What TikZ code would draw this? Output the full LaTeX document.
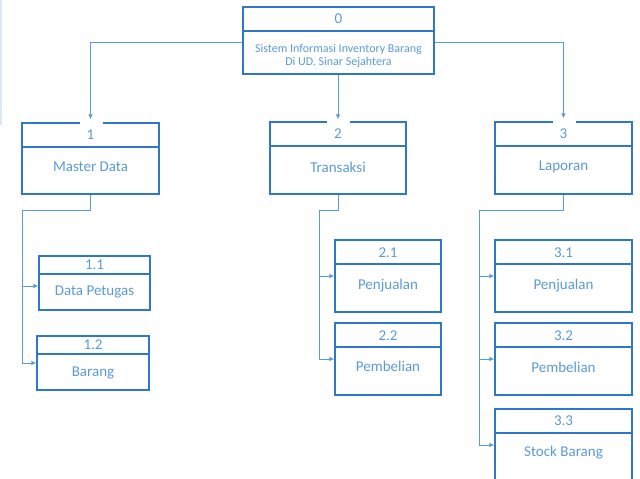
\documentclass[tikz,border=0pt]{standalone}
\usepackage{fontspec}
\setmainfont{Carlito}
\usetikzlibrary{arrows.meta,calc}
\definecolor{boxblue}{HTML}{2F78C8}
\definecolor{linkblue}{HTML}{5B9BD5}
\definecolor{txtblue}{HTML}{5B9BD5}
\definecolor{edgeblue}{HTML}{DCE9F5}
\tikzset{
  box/.style={draw=boxblue, line width=1.3pt, rectangle, inner sep=0pt},
  divider/.style={draw=boxblue, line width=1.3pt},
  conn/.style={draw=linkblue, line width=0.9pt},
  arr/.style={conn, -{Latex[length=5pt,width=4.5pt]}},
  num/.style={text=txtblue, font=\fontsize{15}{18}\selectfont, inner sep=0pt},
  lbl/.style={text=txtblue, font=\fontsize{15}{18}\selectfont, inner sep=0pt},
  small/.style={text=txtblue, font=\fontsize{12}{14}\selectfont, inner sep=0pt},
}
\begin{document}
\begin{tikzpicture}[x=1pt,y=-1pt]
\useasboundingbox (0,0) rectangle (640,479);
\fill[white] (0,0) rectangle (640,479);

% faint edge line on the left
\draw[edgeblue, line width=1.2pt] (1,0) -- (1,125);

% ---- level 0 ----
\node[box, minimum width=191pt, minimum height=67pt] (b0) at (338.5,40.5) {};
\draw[divider] (b0.west |- 0,31) -- (b0.east |- 0,31);
\node[num] (n0) at (338.5,19) {0};
\node[small] (t0a) at (338.5,49) {Sistem Informasi Inventory Barang};
\node[small] (t0b) at (338.5,62) {Di UD. Sinar Sejahtera};

% ---- level 1 ----
\node[box, minimum width=137pt, minimum height=71pt] (b1) at (90.5,158.5) {};
\draw[divider] (b1.west |- 0,147) -- (b1.east |- 0,147);
\node[num] (n1) at (90.5,135) {1};
\node[lbl] (l1) at (90.5,167) {Master Data};

\node[box, minimum width=136pt, minimum height=72pt] (b2) at (338,158) {};
\draw[divider] (b2.west |- 0,146) -- (b2.east |- 0,146);
\node[num] (n2) at (338,134) {2};
\node[lbl] (l2) at (338,167) {Transaksi};

\node[box, minimum width=137pt, minimum height=72pt] (b3) at (563.5,158) {};
\draw[divider] (b3.west |- 0,146) -- (b3.east |- 0,146);
\node[num] (n3) at (563.5,134) {3};
\node[lbl] (l3) at (563.5,167) {Laporan};

% ---- level 2, column 1 ----
\node[box, minimum width=111pt, minimum height=54pt] (b11) at (94.5,283) {};
\draw[divider] (b11.west |- 0,274) -- (b11.east |- 0,274);
\node[num] (n11) at (94.5,265) {1.1};
\node[lbl] (l11) at (94.5,292) {Data Petugas};

\node[box, minimum width=112pt, minimum height=54pt] (b12) at (93,363) {};
\draw[divider] (b12.west |- 0,354) -- (b12.east |- 0,354);
\node[num] (n12) at (93,345) {1.2};
\node[lbl] (l12) at (93,372.5) {Barang};

% ---- level 2, column 2 ----
\node[box, minimum width=106pt, minimum height=72pt] (b21) at (388,276) {};
\draw[divider] (b21.west |- 0,264) -- (b21.east |- 0,264);
\node[num] (n21) at (388,253) {2.1};
\node[lbl] (l21) at (388,285.5) {Penjualan};

\node[box, minimum width=106pt, minimum height=72pt] (b22) at (388,359) {};
\draw[divider] (b22.west |- 0,347) -- (b22.east |- 0,347);
\node[num] (n22) at (388,335.5) {2.2};
\node[lbl] (l22) at (388,366.5) {Pembelian};

% ---- level 2, column 3 ----
\node[box, minimum width=137pt, minimum height=72pt] (b31) at (563.5,276) {};
\draw[divider] (b31.west |- 0,264) -- (b31.east |- 0,264);
\node[num] (n31) at (563.5,253) {3.1};
\node[lbl] (l31) at (563.5,285.5) {Penjualan};

\node[box, minimum width=137pt, minimum height=72pt] (b32) at (563.5,359) {};
\draw[divider] (b32.west |- 0,347) -- (b32.east |- 0,347);
\node[num] (n32) at (563.5,335.5) {3.2};
\node[lbl] (l32) at (563.5,367) {Pembelian};

\node[box, minimum width=137pt, minimum height=72pt] (b33) at (563.5,445) {};
\draw[divider] (b33.west |- 0,433) -- (b33.east |- 0,433);
\node[num] (n33) at (563.5,421) {3.3};
\node[lbl] (l33) at (563.5,453) {Stock Barang};

% gaps in the top borders where the arrows come in
\foreach \b in {b1,b2,b3}
  \fill[white] ($(\b.north)+(-11,-2)$) rectangle ($(\b.north)+(12,2.5)$);

% ---- connectors from level 0 ----
\coordinate (j0) at (338.5,42);
\draw[arr, shorten >=3pt] (b0.west |- j0) -| (b1.north);
\draw[arr, shorten >=3pt] (b0.east |- j0) -| (b3.north);
\draw[arr, shorten >=2pt] (b0.south -| b2.north) -- (b2.north);

% ---- column 1 ----
\coordinate (t1) at (22,210);
\draw[conn] (b1.south) |- (t1) -- (t1 |- b12.west);
\draw[arr] ([yshift=-3pt]b11.west -| t1) -- ([yshift=-3pt]b11.west);
\draw[arr] (b12.west -| t1) -- (b12.west);

% ---- column 2 ----
\coordinate (t2) at (319,210);
\draw[conn] (b2.south) |- (t2) -- (t2 |- b22.west);
\draw[arr] (b21.west -| t2) -- (b21.west);
\draw[arr] (b22.west -| t2) -- (b22.west);

% ---- column 3 ----
\coordinate (t3) at (479,210);
\draw[conn] (b3.south) |- (t3) -- (t3 |- b33.west);
\draw[arr] (b31.west -| t3) -- (b31.west);
\draw[arr] (b32.west -| t3) -- (b32.west);
\draw[arr] (b33.west -| t3) -- (b33.west);
\end{tikzpicture}
\end{document}
